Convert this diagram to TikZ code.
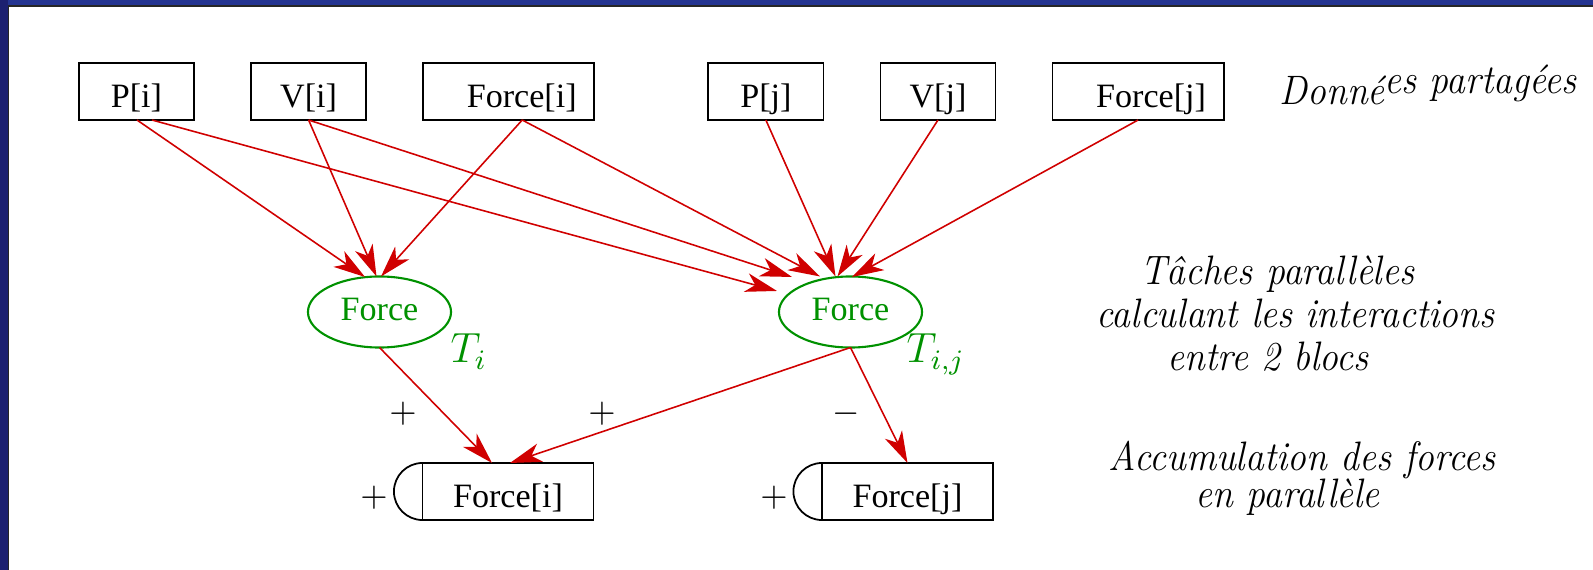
\documentclass[tikz,border=0pt]{standalone}
\usepackage{fontspec}
\newfontfamily\timesf{Liberation Serif}
\usetikzlibrary{arrows.meta, positioning, calc, shapes.geometric}
\definecolor{slideblue}{RGB}{36,52,145}
\definecolor{slidebluedark}{RGB}{28,32,112}
\definecolor{edgered}{RGB}{208,0,0}
\definecolor{taskgreen}{RGB}{0,145,0}
\newcommand{\legendtext}[1]{\scalebox{0.915}[1]{#1}}

\begin{document}
\begin{tikzpicture}[
    x=0.01cm, y=-0.01cm,
    node distance=0.57cm and 0.57cm,
    data/.style={rectangle, draw, line width=0.5pt, minimum width=1.15cm, minimum height=0.57cm, inner sep=0pt, outer sep=0pt, text height=9.2pt, text depth=0pt, font=\timesf\fontsize{9.7}{11.6}\selectfont},
    wdata/.style={data, minimum width=1.71cm},
    task/.style={ellipse, draw=taskgreen, text=taskgreen, line width=0.6pt, minimum width=1.43cm, minimum height=0.71cm, inner sep=0pt, outer sep=0pt, text height=4.6pt, text depth=0pt, font=\timesf\fontsize{9.7}{11.6}\selectfont},
    tlabel/.style={text=taskgreen, anchor=base west, inner sep=0pt, font=\fontsize{11.5}{13}\selectfont},
    arrow/.style={edgered, line width=0.45pt, -{Stealth[length=9pt, width=5.4pt, inset=2.6pt]}},
    legend/.style={font=\itshape\fontsize{11.7}{14}\selectfont, anchor=base west, inner sep=0pt},
    sign/.style={inner sep=0pt}
]
\useasboundingbox (0,0) rectangle (1593,570);
% slide frame
\fill[slideblue] (0,0) rectangle (1593,5.5);
\fill[slidebluedark] (0,0) rectangle (7.5,570);
\fill[black!85] (7.5,5.5) rectangle (1593,7);
\fill[black!85] (7.5,5.5) rectangle (9,570);

% shared data
\node[data] (pi) at (136.5,91.5) {P[i]};
\node[data, right=of pi] (vi) {V[i]};
\node[wdata, right=of vi] (fri) {\hspace*{7.4pt}Force[i]};
\node[data, right=1.14cm of fri] (pj) {P[j]};
\node[data, right=of pj] (vj) {V[j]};
\node[wdata, right=of vj] (frj) {\hspace*{7.4pt}Force[j]};

% tasks
\node[task] (ti) at (379.5,312) {Force};
\node[task] (tj) at (850.5,312) {Force};
\node[tlabel] (lti) at (450,363) {$T_i$};
\node[tlabel] (ltj) at (906,363) {$T_{i,j}$};

% accumulators
\node[wdata] (ai) at (508,491.5) {Force[i]};
\node[wdata] (aj) at (907.5,491.5) {Force[j]};
\draw[line width=0.5pt] (ai.north west) arc[start angle=90, end angle=270, radius=0.285cm];
\draw[line width=0.5pt] (aj.north west) arc[start angle=90, end angle=270, radius=0.285cm];
\node[sign] (acci) at (374,498) {$+$};
\node[sign] (accj) at (774,498) {$+$};
\node[sign] (sgna) at (403,414) {$+$};
\node[sign] (sgnb) at (602,414) {$+$};
\node[sign] (sgnc) at (846,414) {$-$};

% legends
\node[legend] (ldon) at (1279,105) {\legendtext{Donné\raisebox{3.2pt}{es partagées}}};
\node[legend] (ltac1) at (1140,285) {\legendtext{Tâches parallèles}};
\node[legend] (ltac2) at (1096,328) {\legendtext{calculant les interactions}};
\node[legend] (ltac3) at (1167,371) {\legendtext{entre 2 blocs}};
\node[legend] (lacc1) at (1108,470) {\legendtext{Accumulation des forces}};
\node[legend] (lacc2) at (1195,508) {\legendtext{en parallèle}};

% dependencies
\draw[arrow] ($(pi.south)+(0.5,0)$) -- ($(ti.north)+(-14.5,0.5)$);
\draw[arrow] ($(pi.south)+(15.5,0)$) -- ($(tj.north)+(-73.5,14.5)$);
\draw[arrow] (vi.south) -- ($(ti.north)+(-3,0)$);
\draw[arrow] (vi.south) -- ($(tj.north)+(-58.5,0.5)$);
\draw[arrow] ($(fri.south)+(13.5,0)$) -- ($(ti.north)+(1.5,0)$);
\draw[arrow] ($(fri.south)+(13.5,0)$) -- ($(tj.north)+(-30.5,0)$);
\draw[arrow] (pj.south) -- ($(tj.north)+(-15,0)$);
\draw[arrow] (vj.south) -- ($(tj.north)+(-13,0)$);
\draw[arrow] (frj.south) -- ($(tj.north)+(1.5,0.5)$);
\draw[arrow] (ti.south) -- ($(ai.north)+(-16,0)$);
\draw[arrow] (tj.south) -- ($(ai.north)+(2,0)$);
\draw[arrow] (tj.south) -- (aj.north);
\end{tikzpicture}
\end{document}
